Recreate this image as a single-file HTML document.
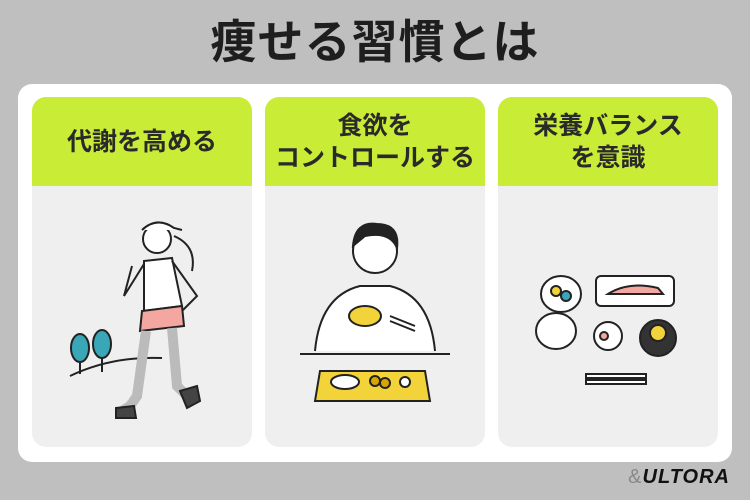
<!DOCTYPE html>
<html><head><meta charset="utf-8"><style>
body{margin:0;width:750px;height:500px;background:#bfbfbf;position:relative;overflow:hidden;font-family:"Liberation Sans","Noto Sans CJK JP",sans-serif}
.t{position:absolute;top:12px;left:0;width:750px;text-align:center;font-size:46px;font-weight:bold;color:#1e1e1e;letter-spacing:1px;line-height:60px}
.p{position:absolute;left:18px;top:84px;width:714px;height:378px;background:#fff;border-radius:14px}
.c{position:absolute;top:97px;width:220px;height:350px;background:#efefef;border-radius:14px;overflow:hidden}
.h{height:89px;background:#c9ec37;display:flex;align-items:center;justify-content:center;text-align:center;font-size:25px;font-weight:bold;color:#2a2a2a;line-height:32px}
svg{position:absolute;left:0;top:89px}
.l{position:absolute;right:20px;top:466px;font-size:20px;font-style:italic;font-weight:bold;color:#111;letter-spacing:1px}
.l span{color:#888;font-weight:normal;font-style:normal}
</style></head><body>
<div class="t">痩せる習慣とは</div>
<div class="p"></div>
<div class="c" style="left:32px"><div class="h">代謝を高める</div>
<svg width="220" height="261" fill="none" stroke="#222" stroke-width="2">
<path d="M38 190 Q80 170 130 172"/>
<ellipse cx="48" cy="162" rx="9" ry="14" fill="#3aa7b8"/><line x1="48" y1="176" x2="48" y2="188"/>
<ellipse cx="70" cy="158" rx="9" ry="14" fill="#3aa7b8"/><line x1="70" y1="172" x2="70" y2="186"/>
<circle cx="125" cy="53" r="14" fill="#fff"/><path d="M110 44 Q125 30 142 42 L150 44" fill="#fff"/>
<path d="M142 50 Q165 60 160 85" />
<path d="M112 75 L140 72 L150 120 L112 125 Z" fill="#fff"/>
<path d="M110 125 L150 120 L152 140 L108 145 Z" fill="#f3a7a0"/>
<path d="M114 145 L105 210 L98 220 L90 225" stroke-width="10" stroke="#bbb"/>
<path d="M140 142 L145 200 L155 210" stroke-width="10" stroke="#bbb"/>
<path d="M84 222 L102 220 L104 232 L84 232 Z" fill="#444"/>
<path d="M148 205 L165 200 L168 215 L155 222 Z" fill="#444"/>
<path d="M112 78 L92 110 L100 80"/><path d="M140 75 L165 110 L150 125"/>
</svg></div>
<div class="c" style="left:265px"><div class="h">食欲を<br>コントロールする</div>
<svg width="220" height="261" fill="none" stroke="#222" stroke-width="2">
<circle cx="110" cy="65" r="22" fill="#fff"/><path d="M88 60 Q90 35 112 38 Q135 38 132 62 Q125 45 100 50 Z" fill="#222"/>
<path d="M50 165 Q55 110 95 100 L125 100 Q165 110 170 165" fill="#fff"/>
<ellipse cx="100" cy="130" rx="16" ry="10" fill="#f2d43a"/>
<line x1="125" y1="130" x2="150" y2="140"/><line x1="125" y1="135" x2="150" y2="145"/>
<line x1="35" y1="168" x2="185" y2="168"/>
<path d="M55 185 L160 185 L165 215 L50 215 Z" fill="#f2d43a"/>
<ellipse cx="80" cy="196" rx="14" ry="7" fill="#fff"/>
<circle cx="110" cy="195" r="5" fill="#d9a600"/><circle cx="120" cy="197" r="5" fill="#d9a600"/>
<circle cx="140" cy="196" r="5" fill="#fff"/>
</svg></div>
<div class="c" style="left:498px"><div class="h">栄養バランス<br>を意識</div>
<svg width="220" height="261" fill="none" stroke="#222" stroke-width="2">
<ellipse cx="63" cy="108" rx="20" ry="18" fill="#fff"/><circle cx="58" cy="105" r="5" fill="#f2d43a"/><circle cx="68" cy="110" r="5" fill="#3aa7b8"/>
<rect x="98" y="90" width="78" height="30" rx="5" fill="#fff"/><path d="M110 108 Q130 95 160 102 L165 108 Z" fill="#f3a7a0"/>
<ellipse cx="58" cy="145" rx="20" ry="18" fill="#fff"/>
<circle cx="110" cy="150" r="14" fill="#fff"/><circle cx="106" cy="150" r="4" fill="#f3a7a0"/>
<circle cx="160" cy="152" r="18" fill="#333"/><circle cx="160" cy="147" r="8" fill="#f2d43a"/>
<rect x="88" y="188" width="60" height="4" fill="#fff"/><rect x="88" y="194" width="60" height="4" fill="#fff"/>
</svg></div>
<div class="l"><span>&amp;</span>ULTORA</div>
</body></html>
